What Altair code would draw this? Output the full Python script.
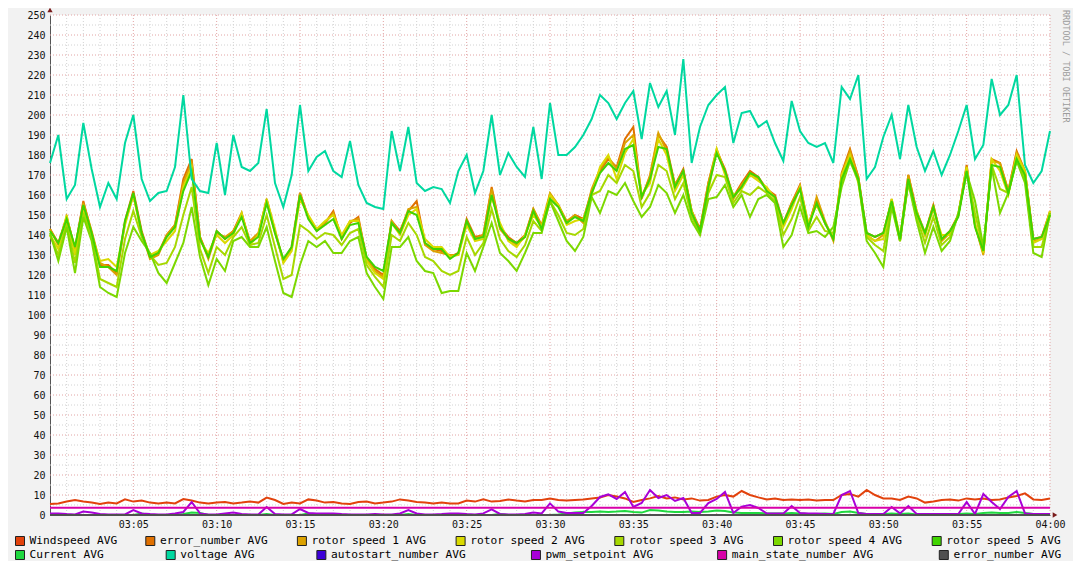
import altair as alt
import pandas as pd

alt.data_transformers.disable_max_rows()

# ---------------- data (30 s samples, 03:00 .. 04:00) ----------------
times = pd.date_range("2024-01-01 03:00:00", periods=121, freq="30s")

windspeed = [5.5, 5.8, 6.7, 7.5, 6.7, 6.2, 5.5, 6.3, 5.8, 7.8,
             6.7, 7.2, 6.2, 5.8, 6.3, 5.8, 8.0, 7.2, 6.2, 5.8,
             6.2, 6.5, 5.8, 6.2, 6.7, 6.2, 8.7, 7.5, 5.5, 6.2,
             5.8, 7.8, 7.2, 6.2, 6.5, 5.8, 5.5, 6.5, 6.7, 5.8,
             6.2, 6.7, 7.8, 7.2, 6.5, 6.2, 5.8, 6.2, 5.8, 5.8,
             7.2, 6.7, 7.8, 6.7, 7.0, 7.8, 7.2, 6.7, 7.5, 7.5,
             8.3, 7.5, 7.2, 7.5, 7.8, 8.3, 8.8, 10.0, 9.2, 8.3,
             6.5, 7.5, 8.3, 9.5, 8.3, 8.8, 7.8, 8.3, 7.2, 7.5,
             9.2, 10.0, 9.2, 12.0, 10.0, 8.8, 7.8, 8.3, 7.5, 7.8,
             7.5, 7.8, 7.2, 7.5, 7.5, 10.0, 10.5, 9.2, 12.5, 10.0,
             8.3, 8.3, 7.5, 9.2, 8.3, 6.2, 6.7, 7.5, 7.8, 7.2,
             8.3, 7.8, 8.3, 7.5, 7.8, 8.8, 9.5, 10.8, 7.8, 7.5,
             8.3]

error_number_a = [143, 136, 149, 133, 157, 141, 125, 125, 121, 147,
                  162, 142, 129, 131, 140, 145, 168, 178, 139, 129,
                  142, 138, 142, 151, 136, 140, 158, 142, 127, 134,
                  161, 149, 143, 146, 152, 138, 146, 149, 128, 123,
                  120, 147, 142, 152, 157, 136, 133, 132, 129, 131,
                  148, 139, 140, 164, 144, 139, 136, 140, 153, 144,
                  160, 155, 146, 150, 148, 162, 172, 178, 174, 188,
                  194, 159, 169, 190, 184, 165, 173, 152, 143, 166,
                  182, 173, 159, 166, 172, 169, 163, 160, 146, 156,
                  165, 145, 158, 146, 138, 171, 183, 169, 141, 139,
                  141, 157, 138, 170, 152, 141, 155, 138, 142, 150,
                  175, 145, 131, 178, 176, 162, 182, 172, 138, 139,
                  152]

rotor1 = [143, 135, 149, 133, 156, 142, 126, 124, 120, 146,
          160, 141, 128, 130, 140, 145, 166, 176, 139, 128,
          141, 139, 142, 150, 137, 141, 157, 141, 127, 133,
          161, 149, 142, 146, 151, 139, 147, 148, 128, 122,
          119, 147, 141, 153, 154, 135, 132, 131, 130, 130,
          147, 138, 140, 163, 143, 138, 135, 139, 153, 145,
          161, 155, 147, 150, 146, 163, 173, 179, 173, 186,
          190, 158, 170, 191, 182, 165, 172, 152, 142, 166,
          183, 172, 158, 165, 171, 168, 163, 159, 145, 156,
          164, 143, 159, 147, 137, 170, 182, 169, 140, 137,
          140, 158, 137, 170, 151, 140, 155, 137, 141, 150,
          174, 145, 130, 177, 176, 162, 181, 172, 137, 138,
          151]

rotor2 = [140, 133, 150, 130, 153, 140, 127, 128, 124, 145,
          160, 140, 130, 132, 137, 142, 164, 174, 137, 131,
          140, 136, 140, 151, 135, 140, 158, 143, 126, 132,
          158, 150, 143, 147, 150, 140, 147, 147, 127, 121,
          118, 146, 140, 150, 153, 138, 134, 134, 129, 130,
          145, 137, 138, 159, 146, 137, 134, 140, 150, 144,
          160, 155, 145, 147, 148, 160, 174, 180, 168, 181,
          188, 160, 166, 188, 180, 162, 170, 152, 141, 162,
          183, 170, 160, 163, 170, 167, 164, 158, 144, 153,
          164, 146, 155, 146, 139, 170, 180, 166, 140, 137,
          138, 158, 139, 166, 152, 140, 153, 140, 140, 150,
          174, 146, 131, 178, 172, 160, 180, 172, 136, 138,
          152]

rotor3 = [140, 130, 146, 126, 151, 139, 118, 116, 114, 138,
          152, 139, 130, 125, 126, 134, 150, 164, 133, 121,
          134, 130, 139, 144, 135, 136, 150, 134, 118, 120,
          145, 142, 138, 141, 140, 135, 141, 143, 125, 119,
          114, 140, 137, 146, 140, 129, 127, 122, 120, 122,
          139, 130, 136, 153, 138, 132, 129, 135, 147, 142,
          157, 150, 141, 140, 143, 160, 162, 170, 166, 175,
          172, 154, 161, 175, 172, 158, 166, 149, 141, 161,
          170, 169, 156, 162, 160, 164, 161, 157, 140, 148,
          159, 142, 149, 142, 141, 166, 178, 168, 139, 135,
          132, 156, 137, 167, 149, 136, 149, 135, 139, 150,
          172, 151, 133, 175, 163, 161, 178, 168, 134, 134,
          150]

rotor4 = [141, 127, 144, 121, 149, 137, 114, 111, 109, 131,
          144, 137, 131, 121, 116, 126, 136, 154, 129, 115,
          128, 122, 137, 139, 134, 134, 144, 127, 111, 109,
          125, 137, 134, 137, 131, 131, 137, 139, 121, 114,
          108, 134, 134, 139, 127, 122, 121, 111, 112, 112,
          131, 122, 134, 146, 131, 127, 122, 131, 141, 141,
          157, 147, 137, 132, 139, 159, 151, 162, 160, 166,
          157, 149, 154, 165, 161, 151, 160, 147, 140, 158,
          159, 165, 154, 160, 149, 158, 160, 156, 134, 140,
          154, 141, 142, 139, 144, 164, 177, 167, 137, 131,
          124, 154, 137, 166, 147, 131, 144, 132, 137, 151,
          171, 157, 134, 174, 151, 161, 177, 166, 131, 129,
          151]

rotor5 = [142, 136, 148, 134, 155, 141, 124, 124, 122, 147,
          161, 141, 129, 131, 139, 144, 162, 172, 138, 129,
          142, 138, 141, 149, 136, 139, 156, 141, 128, 134,
          160, 148, 142, 145, 148, 138, 145, 146, 129, 124,
          122, 146, 141, 152, 150, 136, 133, 133, 128, 131,
          147, 138, 139, 160, 144, 138, 136, 139, 152, 143,
          158, 154, 146, 149, 147, 161, 171, 176, 172, 183,
          185, 159, 168, 184, 183, 164, 172, 151, 142, 164,
          181, 172, 159, 164, 171, 169, 162, 159, 146, 155,
          163, 144, 156, 146, 138, 168, 178, 168, 141, 139,
          141, 157, 138, 168, 151, 141, 154, 138, 142, 149,
          172, 144, 132, 175, 174, 161, 178, 170, 138, 139,
          150]

current = [0, 0, 0, 0, 0, 0, 0, 0, 0, 0,
           0, 0.8, 0, 0, 0, 0, 0.5, 1.2, 1.0, 0,
           0, 0, 0, 0, 0, 0, 0.5, 0, 0, 0,
           0, 0.8, 0, 0, 0, 0, 0, 0, 0, 0,
           0, 0, 0, 0.5, 0, 0, 0, 0, 0, 0,
           0, 0, 0, 0, 0.5, 0, 0, 0, 0, 0,
           0, 0.3, 0.8, 1.2, 1.5, 1.5, 1.7, 1.5, 1.7, 2.0,
           1.5, 1.2, 2.5, 2.2, 1.7, 1.5, 1.5, 1.7, 1.5, 1.7,
           2.2, 2.0, 1.2, 1.0, 1.0, 1.0, 0.8, 0.8, 0.8, 1.0,
           0.8, 0.5, 0.5, 0.8, 0.5, 1.5, 1.7, 1.0, 0.5, 0.5,
           0.5, 0.8, 0.5, 0.8, 0.3, 0.3, 0.5, 0.5, 0.3, 0.5,
           0.8, 0.5, 1.0, 1.2, 1.0, 1.0, 1.5, 1.0, 0.5, 0.3,
           0.3]

voltage = [176, 190, 158, 165, 196, 173, 154, 166, 158, 186,
           200, 168, 157, 161, 162, 174, 210, 168, 162, 161,
           186, 160, 190, 174, 172, 176, 203, 166, 154, 170,
           205, 172, 179, 182, 172, 169, 187, 165, 156, 154,
           153, 192, 172, 194, 166, 162, 164, 163, 156, 172,
           180, 161, 172, 200, 170, 181, 174, 169, 194, 168,
           206, 180, 180, 184, 190, 198, 210, 206, 198, 206,
           212, 188, 216, 204, 212, 190, 228, 176, 194, 205,
           210, 214, 186, 201, 202, 194, 197, 186, 177, 207,
           192, 186, 184, 186, 176, 214, 208, 220, 168, 174,
           189, 200, 178, 205, 184, 172, 182, 170, 180, 192,
           205, 178, 185, 218, 200, 205, 220, 175, 166, 172,
           192]

autostart = [0] * 121

pwm_setpoint = [0.8, 0.8, 0.5, 0.3, 1.7, 1.2, 0.5, 0.3, 0.3, 0.3,
                2.5, 0.8, 0.5, 0.3, 0.3, 0.8, 1.5, 6.5, 0.8, 0.3,
                0.3, 0.8, 1.2, 0.5, 0.3, 0.3, 4.0, 0.5, 0.3, 0.3,
                3.0, 1.0, 0.8, 0.8, 0.8, 0.5, 0.3, 0.3, 0.3, 0.5,
                0.3, 0.3, 0.8, 2.5, 0.8, 0.3, 0.3, 0.5, 0.8, 0.8,
                0.5, 0.3, 0.8, 2.8, 0.5, 0.3, 0.3, 0.5, 1.2, 0.8,
                5.8, 1.7, 1.0, 1.0, 1.0, 4.5, 9.0, 10.3, 8.0, 11.5,
                4.0, 6.0, 12.5, 8.5, 10.0, 7.0, 8.5, 1.0, 1.0, 6.0,
                8.0, 11.5, 1.0, 4.2, 5.0, 3.5, 0.8, 0.8, 0.8, 4.5,
                1.0, 0.8, 0.8, 0.5, 0.5, 10.0, 12.0, 1.0, 0.5, 0.5,
                0.5, 4.0, 0.8, 4.5, 0.5, 0.5, 0.5, 0.5, 0.5, 0.5,
                6.5, 0.5, 10.5, 6.5, 3.0, 9.0, 12.0, 0.8, 0.5, 0.5,
                0.5]

main_state_number = [3.6] * 121
error_number_b = [0] * 121

names = ["Windspeed AVG", "error_number AVG", "rotor speed 1 AVG", "rotor speed 2 AVG",
         "rotor speed 3 AVG", "rotor speed 4 AVG", "rotor speed 5 AVG",
         "Current AVG", "voltage AVG", "autostart_number AVG", "pwm_setpoint AVG",
         "main_state_number AVG", "error_number AVG"]
colors = ["#e2420c", "#e07000", "#dca200", "#dada00", "#a6d800", "#7cd800", "#40d400",
          "#20d840", "#00d8a0", "#3c00d8", "#a800d8", "#d800a8", "#505050"]
values = [windspeed, error_number_a, rotor1, rotor2, rotor3, rotor4, rotor5,
          current, voltage, autostart, pwm_setpoint, main_state_number, error_number_b]

# ---------------- layout ----------------
W, H = 1000, 500
FONT = "DejaVu Sans Mono"


def dt(minute):
    return alt.DateTime(year=2024, month=1, date=1, hours=3 + minute // 60, minutes=minute % 60)


xscale = alt.Scale(domain=[dt(0), dt(60)])
yscale = alt.Scale(domain=[0, 250], nice=False)
xaxis = alt.Axis(values=[dt(m) for m in range(5, 61, 5)], format="%H:%M", grid=False,
                 ticks=False, tickSize=0, domainColor="#555555", domainWidth=1,
                 labelFont=FONT, labelFontSize=10, labelColor="#111111",
                 labelPadding=4, labelFlush=False, labelOverlap=False, title=None)
yaxis = alt.Axis(values=list(range(0, 251, 10)), grid=False, ticks=False, tickSize=0,
                 domainColor="#555555", domainWidth=1,
                 labelFont=FONT, labelFontSize=10, labelColor="#111111",
                 labelPadding=5, labelOverlap=False, title=None)
X = alt.X("t:T", scale=xscale, axis=xaxis)
Y = alt.Y("v:Q", scale=yscale, axis=yaxis)

layers = []

# grid
minute_ticks = pd.date_range("2024-01-01 03:01:00", "2024-01-01 03:59:00", freq="1min")
minor_v = pd.DataFrame({"t": [m for m in minute_ticks if m.minute % 5 != 0]})
major_v = pd.DataFrame({"t": pd.date_range("2024-01-01 03:05:00", "2024-01-01 04:00:00", freq="5min")})
minor_h = pd.DataFrame({"v": list(range(5, 250, 10))})
major_h = pd.DataFrame({"v": list(range(10, 251, 10))})
GRID_MINOR = "#d2d2d2"
GRID_MAJOR = "#e2a4a4"
layers.append(alt.Chart(minor_v).mark_rule(color=GRID_MINOR, strokeDash=[1, 2], strokeWidth=1).encode(x=X))
layers.append(alt.Chart(minor_h).mark_rule(color=GRID_MINOR, strokeDash=[1, 2], strokeWidth=1).encode(y=Y))
layers.append(alt.Chart(major_v).mark_rule(color=GRID_MAJOR, strokeDash=[1, 2], strokeWidth=1).encode(x=X))
layers.append(alt.Chart(major_h).mark_rule(color=GRID_MAJOR, strokeDash=[1, 2], strokeWidth=1).encode(y=Y))

# series
for name, color, vals in zip(names, colors, values):
    df = pd.DataFrame({"t": times, "v": vals})
    layers.append(alt.Chart(df).mark_line(color=color, strokeWidth=2).encode(x=X, y=Y))

# axis arrows
arrow_up = pd.DataFrame({"t": [pd.Timestamp("2024-01-01 03:00:00")], "v": [252.5]})
arrow_right = pd.DataFrame({"t": [pd.Timestamp("2024-01-01 04:00:18")], "v": [0]})
layers.append(alt.Chart(arrow_up).mark_point(shape="triangle-up", filled=True, size=28,
                                              color="#7a1c1c", opacity=1, clip=False).encode(x=X, y=Y))
layers.append(alt.Chart(arrow_right).mark_point(shape="triangle-right", filled=True, size=28,
                                                 color="#7a1c1c", opacity=1, clip=False).encode(x=X, y=Y))

# legend (two justified rows, like rrdtool)
CW = 7.1          # char advance in px
SW, SG = 10, 4.6  # swatch size and gap to text
LEFT, RIGHT = -35, 1017
rows = [list(range(0, 7)), list(range(7, 13))]
row_y = [526, 540]
leg = []
for r, idxs in enumerate(rows):
    widths = [SW + SG + len(names[i]) * CW for i in idxs]
    gap = (RIGHT - LEFT - sum(widths)) / (len(idxs) - 1)
    x = LEFT
    for i, w in zip(idxs, widths):
        leg.append({"sx": x + SW / 2, "tx": x + SW + SG, "py": row_y[r],
                    "name": names[i], "col": colors[i]})
        x += w + gap
leg_df = pd.DataFrame(leg)
layers.append(alt.Chart(leg_df).mark_square(size=81, strokeWidth=1, stroke="#222222", opacity=1).encode(
    x=alt.X("sx:Q", scale=None, axis=None),
    y=alt.Y("py:Q", scale=None, axis=None),
    fill=alt.Fill("col:N", scale=None, legend=None)))
layers.append(alt.Chart(leg_df).mark_text(align="left", baseline="middle", font=FONT,
                                          fontSize=11.2, color="#000000").encode(
    x=alt.X("tx:Q", scale=None, axis=None),
    y=alt.Y("py:Q", scale=None, axis=None),
    text="name:N"))

# watermark
layers.append(alt.Chart(pd.DataFrame({"a": [0]})).mark_text(
    angle=90, align="left", baseline="middle", font=FONT, fontSize=8.5, color="#9c9c9c").encode(
    x=alt.value(1016), y=alt.value(-5), text=alt.value("RRDTOOL / TOBI OETIKER")))

chart = alt.layer(*layers).properties(
    width=W, height=H,
    autosize=alt.AutoSizeParams(type="none"),
    padding={"left": 42, "top": 7, "right": 23, "bottom": 46},
).configure(background="#f2f2f2").configure_view(fill="white", stroke=None)

chart.save("out.html", embed_options={"renderer": "svg", "actions": False})
